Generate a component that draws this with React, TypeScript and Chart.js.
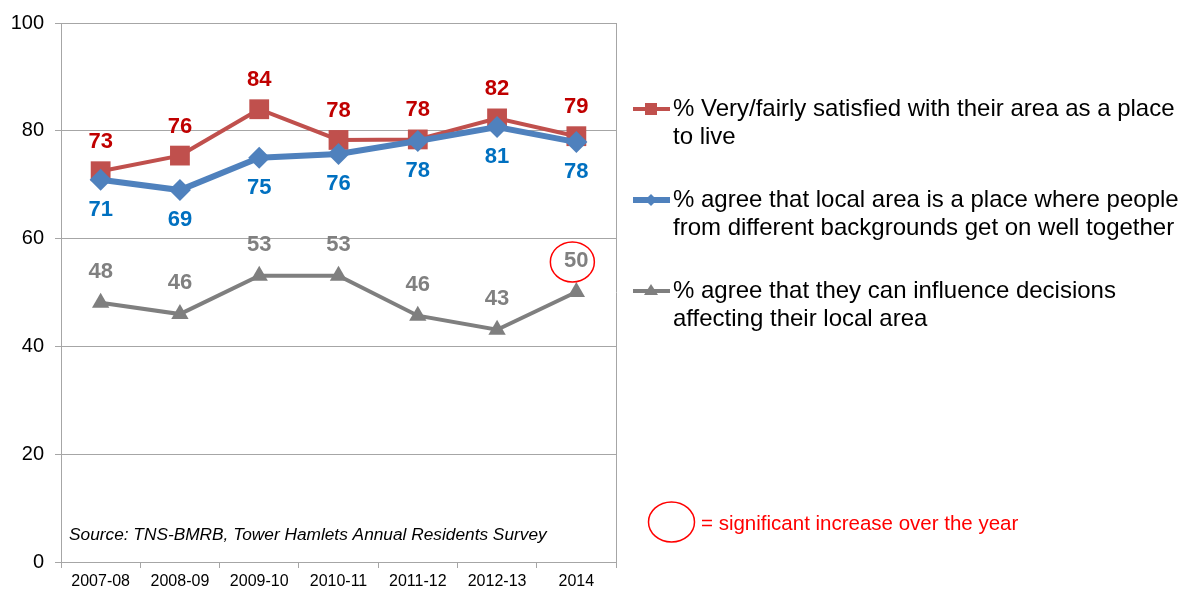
import React, { useEffect, useRef } from 'react';
import { Chart, registerables } from 'chart.js';

Chart.register(...registerables);

const categories = ['2007-08', '2008-09', '2009-10', '2010-11', '2011-12', '2012-13', '2014'];
const satisfied = [72.5, 75.4, 84, 78.3, 78.4, 82.3, 79];
const satisfiedLabels = ['73', '76', '84', '78', '78', '82', '79'];
const together = [70.9, 69, 75, 75.7, 78.1, 80.7, 77.9];
const togetherLabels = ['71', '69', '75', '76', '78', '81', '78'];
const influence = [48.1, 46, 53.1, 53.1, 45.7, 43.1, 50.1];
const influenceLabels = ['48', '46', '53', '53', '46', '43', '50'];
const seriesNames = [
  ['% Very/fairly satisfied with their area as a place', 'to live'],
  ['% agree that local area is a place where people', 'from different backgrounds get on well together'],
  ['% agree that they can influence decisions', 'affecting their local area'],
];
const sourceText = 'Source: TNS-BMRB, Tower Hamlets Annual Residents Survey';
const significanceText = '= significant increase over the year';

const FONT = '"Liberation Sans", Arial, sans-serif';
const RED = '#C0504D';
const BLUE = '#4F81BD';
const GREY = '#7F7F7F';
const GRID = '#A6A6A6';

const overlay = {
  id: 'overlay',
  afterDatasetsDraw(chart: any) {
    const ctx = chart.ctx as CanvasRenderingContext2D;
    const { right, top, bottom, left } = chart.chartArea;
    ctx.save();
    // plot right border
    ctx.strokeStyle = GRID;
    ctx.lineWidth = 1;
    ctx.beginPath();
    ctx.moveTo(Math.round(right) + 0.5, top);
    ctx.lineTo(Math.round(right) + 0.5, bottom);
    ctx.stroke();

    // data labels
    const specs = [
      { ds: 0, labels: satisfiedLabels, color: '#C00000', dy: -29 },
      { ds: 1, labels: togetherLabels, color: '#0070C0', dy: 30 },
      { ds: 2, labels: influenceLabels, color: '#808080', dy: -31 },
    ];
    ctx.font = `bold 22px ${FONT}`;
    ctx.textAlign = 'center';
    ctx.textBaseline = 'middle';
    specs.forEach((s) => {
      const meta = chart.getDatasetMeta(s.ds);
      meta.data.forEach((pt: any, j: number) => {
        ctx.fillStyle = s.color;
        ctx.fillText(s.labels[j], pt.x, pt.y + s.dy);
      });
    });

    // significance circle around last grey label
    const gm = chart.getDatasetMeta(2);
    const last = gm.data[gm.data.length - 1];
    ctx.strokeStyle = '#FF0000';
    ctx.lineWidth = 1.5;
    ctx.beginPath();
    ctx.ellipse(last.x - 4, last.y - 30, 22, 20, 0, 0, Math.PI * 2);
    ctx.stroke();

    // source text
    ctx.font = `italic 17.3px ${FONT}`;
    ctx.fillStyle = '#000';
    ctx.textAlign = 'left';
    ctx.fillText(sourceText, left + 8, 535);

    // legend
    const legendColors = [RED, BLUE, GREY];
    const legendWidths = [4, 6, 4];
    const legendY = [109, 200, 291];
    const styles = ['rect', 'rectRot', 'triangle'];
    legendColors.forEach((c, i) => {
      const y = legendY[i];
      ctx.strokeStyle = c;
      ctx.lineWidth = legendWidths[i];
      ctx.beginPath();
      ctx.moveTo(633, y);
      ctx.lineTo(670, y);
      ctx.stroke();
      ctx.fillStyle = c;
      ctx.beginPath();
      const cx = 651;
      if (styles[i] === 'rect') {
        ctx.rect(cx - 6, y - 6, 12, 12);
      } else if (styles[i] === 'rectRot') {
        ctx.moveTo(cx, y - 6); ctx.lineTo(cx + 6, y); ctx.lineTo(cx, y + 6); ctx.lineTo(cx - 6, y); ctx.closePath();
      } else {
        ctx.moveTo(cx, y - 7); ctx.lineTo(cx + 7, y + 4); ctx.lineTo(cx - 7, y + 4); ctx.closePath();
      }
      ctx.fill();
      ctx.fillStyle = '#000';
      ctx.font = `24px ${FONT}`;
      ctx.textAlign = 'left';
      ctx.fillText(seriesNames[i][0], 673, y);
      ctx.fillText(seriesNames[i][1], 673, y + 28);
    });

    // significance key
    ctx.strokeStyle = '#FF0000';
    ctx.lineWidth = 1.5;
    ctx.beginPath();
    ctx.ellipse(671.5, 522, 23, 20, 0, 0, Math.PI * 2);
    ctx.stroke();
    ctx.fillStyle = '#FF0000';
    ctx.font = `20.5px ${FONT}`;
    ctx.fillText(significanceText, 701, 524);
    ctx.restore();
  },
};

export default function App() {
  const ref = useRef<HTMLCanvasElement>(null);
  useEffect(() => {
    if (!ref.current) return;
    const chart = new Chart(ref.current, {
      type: 'line',
      data: {
        labels: categories,
        datasets: [
          {
            data: satisfied,
            borderColor: RED,
            backgroundColor: RED,
            borderWidth: 4,
            pointStyle: 'rect',
            pointRadius: 14,
            pointBorderWidth: 0,
            order: 2,
          },
          {
            data: together,
            borderColor: BLUE,
            backgroundColor: BLUE,
            borderWidth: 6,
            pointStyle: 'rectRot',
            pointRadius: 11,
            pointBorderWidth: 0,
            order: 1,
          },
          {
            data: influence,
            borderColor: GREY,
            backgroundColor: GREY,
            borderWidth: 4,
            pointStyle: 'triangle',
            pointRadius: 10,
            pointBorderWidth: 0,
            order: 3,
          },
        ],
      },
      options: {
        responsive: false,
        animation: false,
        layout: { padding: { left: 0, top: 23, right: 565, bottom: 0 } },
        plugins: { legend: { display: false }, tooltip: { enabled: false } },
        scales: {
          x: {
            offset: true,
            grid: { offset: true, drawOnChartArea: false, drawTicks: true, tickLength: 6, color: GRID },
            border: { color: GRID },
            ticks: { color: '#000', font: { family: FONT, size: 16 }, padding: 4, maxRotation: 0 },
            afterFit: (s: any) => { s.height = 28; },
          },
          y: {
            min: 0,
            max: 100,
            ticks: { stepSize: 20, color: '#000', font: { family: FONT, size: 20 }, padding: 11 },
            grid: { color: GRID, tickLength: 6 },
            border: { color: GRID },
            afterFit: (s: any) => { s.width = 61; },
          },
        },
      },
      plugins: [overlay],
    });
    return () => chart.destroy();
  }, []);
  return (
    <div style={{ position: 'absolute', left: 0, top: 0, width: 1181, height: 590, background: '#fff' }}>
      <canvas ref={ref} width={1181} height={590} style={{ width: 1181, height: 590 }} />
    </div>
  );
}
